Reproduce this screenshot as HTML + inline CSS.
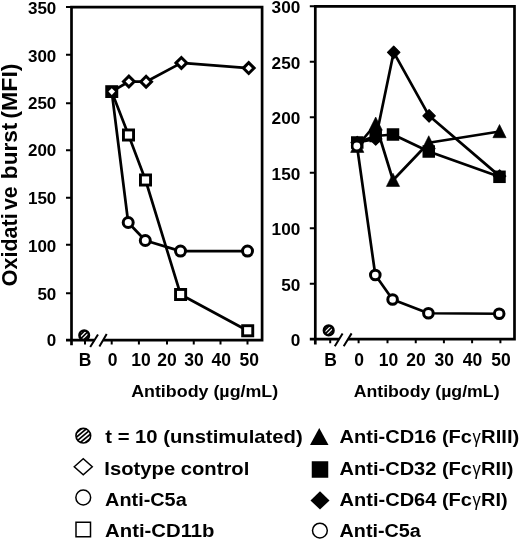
<!DOCTYPE html>
<html><head><meta charset="utf-8"><title>Chart</title>
<style>
html,body{margin:0;padding:0;background:#fff;}
body{width:520px;height:540px;overflow:hidden;}
svg{display:block;filter:grayscale(1) blur(0.3px);}
text{font-family:"Liberation Sans",sans-serif;font-weight:bold;fill:#000;}
</style></head><body>
<svg width="520" height="540" viewBox="0 0 520 540">
<rect width="520" height="540" fill="#fff"/>
<g stroke="#000" fill="none">
<path stroke-width="2.7" d="M71.5,345.3 V7.1 H262.1 V340.2 H103.2 M94.2,340.2 H66.0"/>
<path stroke-width="2.0" d="M66.0,293.30 H71.5M66.0,244.70 H71.5M66.0,197.80 H71.5M66.0,150.20 H71.5M66.0,103.30 H71.5M66.0,54.70 H71.5M66.0,7.10 H71.5M85,340.2 V344.4M111.7,340.2 V344.4M138.9,340.2 V344.4M167,340.2 V344.4M193.75,340.2 V344.4M220.5,340.2 V344.4M247.5,340.2 V344.4M90.2,347.1 L98,334.4 M99.4,346.6 L106.7,334"/>
</g>
<text x="56.3" y="346.10" font-size="17" text-anchor="end">0</text>
<text x="56.3" y="299.60" font-size="17" text-anchor="end">50</text>
<text x="56.3" y="251.50" font-size="17" text-anchor="end">100</text>
<text x="56.3" y="203.90" font-size="17" text-anchor="end">150</text>
<text x="56.3" y="156.30" font-size="17" text-anchor="end">200</text>
<text x="56.3" y="108.80" font-size="17" text-anchor="end">250</text>
<text x="56.3" y="61.50" font-size="17" text-anchor="end">300</text>
<text x="56.3" y="13.80" font-size="17" text-anchor="end">350</text>
<text x="85" y="366.3" font-size="17.5" text-anchor="middle">B</text>
<text x="112.5" y="366.3" font-size="17.5" text-anchor="middle">0</text>
<text x="141" y="366.3" font-size="17.5" text-anchor="middle">10</text>
<text x="167" y="366.3" font-size="17.5" text-anchor="middle">20</text>
<text x="194" y="366.3" font-size="17.5" text-anchor="middle">30</text>
<text x="221.2" y="366.3" font-size="17.5" text-anchor="middle">40</text>
<text x="249.2" y="366.3" font-size="17.5" text-anchor="middle">50</text>
<polyline fill="none" stroke="#000" stroke-width="2.7" stroke-linejoin="round" points="111.75,91.75 128.5,135 145.5,180 180.6,294.5 247.7,330.75"/>
<polyline fill="none" stroke="#000" stroke-width="2.7" stroke-linejoin="round" points="111.75,91.75 128.2,222.5 145.3,240.5 180.5,251.1 247.5,251.1"/>
<polyline fill="none" stroke="#000" stroke-width="2.7" stroke-linejoin="round" points="111.75,91.6 128.9,81.5 146.1,81.7 181.4,62.9 248.7,68.1"/>
<rect x="123.45" y="129.95" width="10.1" height="10.1" fill="#fff" stroke="#000" stroke-width="2.9"/>
<rect x="140.45" y="174.95" width="10.1" height="10.1" fill="#fff" stroke="#000" stroke-width="2.9"/>
<rect x="175.55" y="289.45" width="10.1" height="10.1" fill="#fff" stroke="#000" stroke-width="2.9"/>
<rect x="242.65" y="325.70" width="10.1" height="10.1" fill="#fff" stroke="#000" stroke-width="2.9"/>
<circle cx="128.2" cy="222.5" r="5.0" fill="#fff" stroke="#000" stroke-width="3.0"/>
<circle cx="145.3" cy="240.5" r="5.0" fill="#fff" stroke="#000" stroke-width="3.0"/>
<circle cx="180.5" cy="251.1" r="5.0" fill="#fff" stroke="#000" stroke-width="3.0"/>
<circle cx="247.5" cy="251.1" r="5.0" fill="#fff" stroke="#000" stroke-width="3.0"/>
<path d="M123.50,81.5 L128.9,76.10 L134.30,81.5 L128.9,86.90 Z" fill="#fff" stroke="#000" stroke-width="3.0"/>
<path d="M140.70,81.7 L146.1,76.30 L151.50,81.7 L146.1,87.10 Z" fill="#fff" stroke="#000" stroke-width="3.0"/>
<path d="M176.00,62.9 L181.4,57.50 L186.80,62.9 L181.4,68.30 Z" fill="#fff" stroke="#000" stroke-width="3.0"/>
<path d="M243.30,68.1 L248.7,62.70 L254.10,68.1 L248.7,73.50 Z" fill="#fff" stroke="#000" stroke-width="3.0"/>
<rect x="105.25" y="85.19999999999999" width="13" height="12.8" fill="#000"/>
<path d="M108.45,91.6 L111.75,88.3 L115.05,91.6 L111.75,94.89999999999999 Z" fill="#fff"/>
<clipPath id="c1"><circle cx="84.2" cy="335.3" r="4.75"/></clipPath><circle cx="84.2" cy="335.3" r="4.75" fill="#fff"/><g clip-path="url(#c1)" stroke="#000" stroke-width="1.6"><path d="M73.28,333.92 L82.82,324.38"/><path d="M75.33,335.97 L84.87,326.43"/><path d="M77.38,338.02 L86.92,328.48"/><path d="M79.43,340.07 L88.97,330.53"/><path d="M81.48,342.12 L91.02,332.58"/><path d="M83.53,344.17 L93.07,334.63"/><path d="M85.58,346.22 L95.12,336.68"/></g><circle cx="84.2" cy="335.3" r="4.75" fill="none" stroke="#000" stroke-width="2.6"/>
<g stroke="#000" fill="none">
<path stroke-width="2.7" d="M315.3,344.4 V6.3 H514.5 V339.2 H348 M339,339.2 H309.8"/>
<path stroke-width="2.0" d="M309.8,283.72 H315.3M309.8,228.23 H315.3M309.8,172.75 H315.3M309.8,117.27 H315.3M309.8,61.78 H315.3M309.8,6.30 H315.3M330.2,339.2 V343.2M358.6,339.2 V343.2M387.5,339.2 V343.2M415.75,339.2 V343.2M443.9,339.2 V343.2M472.1,339.2 V343.2M500.4,339.2 V343.2M334.8,346.2 L342.6,333.4 M343.7,346.2 L351.6,333.4"/>
</g>
<text x="300.3" y="346.10" font-size="17.2" text-anchor="end">0</text>
<text x="300.3" y="290.62" font-size="17.2" text-anchor="end">50</text>
<text x="300.3" y="235.13" font-size="17.2" text-anchor="end">100</text>
<text x="300.3" y="179.65" font-size="17.2" text-anchor="end">150</text>
<text x="300.3" y="124.17" font-size="17.2" text-anchor="end">200</text>
<text x="300.3" y="68.68" font-size="17.2" text-anchor="end">250</text>
<text x="300.3" y="13.20" font-size="17.2" text-anchor="end">300</text>
<text x="330.5" y="365.6" font-size="17.5" text-anchor="middle">B</text>
<text x="359" y="365.6" font-size="17.5" text-anchor="middle">0</text>
<text x="388.5" y="365.6" font-size="17.5" text-anchor="middle">10</text>
<text x="416" y="365.6" font-size="17.5" text-anchor="middle">20</text>
<text x="444.3" y="365.6" font-size="17.5" text-anchor="middle">30</text>
<text x="472.4" y="365.6" font-size="17.5" text-anchor="middle">40</text>
<text x="501" y="365.6" font-size="17.5" text-anchor="middle">50</text>
<polyline fill="none" stroke="#000" stroke-width="2.7" stroke-linejoin="round" points="357.25,146.25 375.7,124 393,180.25 428.75,142.75 499.5,131.5"/>
<polyline fill="none" stroke="#000" stroke-width="2.7" stroke-linejoin="round" points="357.25,142.5 375.7,136 393,134.5 428.75,151.5 499.5,176.8"/>
<polyline fill="none" stroke="#000" stroke-width="2.7" stroke-linejoin="round" points="357.25,142.5 375.7,139 393.7,52.3 429.1,115.8 499.6,176.1"/>
<polyline fill="none" stroke="#000" stroke-width="2.7" stroke-linejoin="round" points="357.0,146 375.3,275 392.6,299.5 428.4,313.25 499.2,313.75"/>
<path d="M350.65,152.45 L357.25,139.25 L363.85,152.45 Z" fill="#000" stroke="#000" stroke-width="0.6" stroke-linejoin="round"/>
<path d="M369.10,130.20 L375.7,117.00 L382.30,130.20 Z" fill="#000" stroke="#000" stroke-width="0.6" stroke-linejoin="round"/>
<path d="M386.40,186.45 L393,173.25 L399.60,186.45 Z" fill="#000" stroke="#000" stroke-width="0.6" stroke-linejoin="round"/>
<path d="M422.15,148.95 L428.75,135.75 L435.35,148.95 Z" fill="#000" stroke="#000" stroke-width="0.6" stroke-linejoin="round"/>
<path d="M492.90,137.70 L499.5,124.50 L506.10,137.70 Z" fill="#000" stroke="#000" stroke-width="0.6" stroke-linejoin="round"/>
<rect x="351.0" y="136.25" width="12.5" height="12.5" fill="#000"/>
<rect x="369.45" y="129.75" width="12.5" height="12.5" fill="#000"/>
<rect x="386.75" y="128.25" width="12.5" height="12.5" fill="#000"/>
<rect x="422.5" y="145.25" width="12.5" height="12.5" fill="#000"/>
<rect x="493.25" y="170.55" width="12.5" height="12.5" fill="#000"/>
<path d="M351.05,142.5 L357.25,136.30 L363.45,142.5 L357.25,148.70 Z" fill="#000" stroke="#000" stroke-width="1.2" stroke-linejoin="round"/>
<path d="M369.50,139 L375.7,132.80 L381.90,139 L375.7,145.20 Z" fill="#000" stroke="#000" stroke-width="1.2" stroke-linejoin="round"/>
<path d="M387.50,52.3 L393.7,46.10 L399.90,52.3 L393.7,58.50 Z" fill="#000" stroke="#000" stroke-width="1.2" stroke-linejoin="round"/>
<path d="M422.90,115.8 L429.1,109.60 L435.30,115.8 L429.1,122.00 Z" fill="#000" stroke="#000" stroke-width="1.2" stroke-linejoin="round"/>
<path d="M493.40,176.1 L499.6,169.90 L505.80,176.1 L499.6,182.30 Z" fill="#000" stroke="#000" stroke-width="1.2" stroke-linejoin="round"/>
<circle cx="356.85" cy="146" r="4.7" fill="#fff" stroke="#000" stroke-width="2.6"/>
<circle cx="375.3" cy="275" r="4.8" fill="#fff" stroke="#000" stroke-width="3.0"/>
<circle cx="392.6" cy="299.5" r="4.8" fill="#fff" stroke="#000" stroke-width="3.0"/>
<circle cx="428.4" cy="313.25" r="4.8" fill="#fff" stroke="#000" stroke-width="3.0"/>
<circle cx="499.2" cy="313.75" r="4.8" fill="#fff" stroke="#000" stroke-width="3.0"/>
<clipPath id="c2"><circle cx="328.7" cy="330.4" r="4.75"/></clipPath><circle cx="328.7" cy="330.4" r="4.75" fill="#fff"/><g clip-path="url(#c2)" stroke="#000" stroke-width="1.6"><path d="M317.78,329.02 L327.32,319.48"/><path d="M319.83,331.07 L329.37,321.53"/><path d="M321.88,333.12 L331.42,323.58"/><path d="M323.93,335.17 L333.47,325.63"/><path d="M325.98,337.22 L335.52,327.68"/><path d="M328.03,339.27 L337.57,329.73"/><path d="M330.08,341.32 L339.62,331.78"/></g><circle cx="328.7" cy="330.4" r="4.75" fill="none" stroke="#000" stroke-width="2.7"/>
<clipPath id="c3"><circle cx="83.3" cy="435.7" r="7.35"/></clipPath><circle cx="83.3" cy="435.7" r="7.35" fill="#fff"/><g clip-path="url(#c3)" stroke="#000" stroke-width="1.7"><path d="M67.65,431.60 L81.98,419.58"/><path d="M69.77,434.13 L84.10,422.11"/><path d="M71.90,436.65 L86.22,424.63"/><path d="M74.02,439.18 L88.34,427.16"/><path d="M76.14,441.71 L90.46,429.69"/><path d="M78.26,444.24 L92.58,432.22"/><path d="M80.38,446.77 L94.70,434.75"/><path d="M82.50,449.29 L96.83,437.27"/><path d="M84.62,451.82 L98.95,439.80"/></g><circle cx="83.3" cy="435.7" r="7.35" fill="none" stroke="#000" stroke-width="1.6"/>
<path d="M74.25,466.75 L83.25,458.75 L92.25,466.75 L83.25,474.75 Z" fill="#fff" stroke="#000" stroke-width="1.5"/>
<circle cx="83.25" cy="497.5" r="7.4" fill="#fff" stroke="#000" stroke-width="1.5"/>
<rect x="76" y="522.25" width="14.5" height="14.5" fill="#fff" stroke="#000" stroke-width="1.5"/>
<path d="M310,445 L319.25,428 L328.5,445 Z" fill="#000"/>
<rect x="311.75" y="461.25" width="16.5" height="16.5" fill="#000"/>
<path d="M310.5,500.4 L320,491.25 L329.5,500.4 L320,509.5 Z" fill="#000"/>
<circle cx="319.9" cy="530.6" r="7.4" fill="#fff" stroke="#000" stroke-width="1.5"/>
<text transform="translate(131.14,396.5) scale(1.0626,1)" font-size="16.8">Antibody (µg/mL)</text>
<text transform="translate(17.2,286.16) rotate(-90) scale(0.9992,1)" font-size="21.5">Oxidati</text>
<text transform="translate(17.2,210.10) rotate(-90) scale(0.9892,1)" font-size="21.5">ve</text>
<text transform="translate(17.2,179.15) rotate(-90) scale(1.0497,1)" font-size="21.5">burst</text>
<text transform="translate(17.2,118.83) rotate(-90) scale(1.0797,1)" font-size="21.5">(MFI)</text>
<text transform="translate(353.65,397) scale(1.0546,1)" font-size="16.8">Antibody (µg/mL)</text>
<text transform="translate(105.30,443) scale(1.0664,1)" font-size="19">t = 10 (unstimulated)</text>
<text transform="translate(104.29,474.5) scale(1.0654,1)" font-size="19">Isotype control</text>
<text transform="translate(105.10,506.1) scale(1.0449,1)" font-size="19">Anti-C5a</text>
<text transform="translate(105.09,537) scale(1.0693,1)" font-size="19">Anti-CD11b</text>
<text transform="translate(339.60,443) scale(1.0542,1)" font-size="19">Anti-CD16 (Fc</text>
<text transform="translate(339.60,474.5) scale(1.0542,1)" font-size="19">Anti-CD32 (Fc</text>
<text transform="translate(339.60,505.75) scale(1.0542,1)" font-size="19">Anti-CD64 (Fc</text>
<text transform="translate(481.08,443) scale(1.0670,1)" font-size="19">RIII)</text>
<text transform="translate(481.09,474.5) scale(1.0576,1)" font-size="19">RII)</text>
<text transform="translate(481.10,505.75) scale(1.0526,1)" font-size="19">RI)</text>
<text transform="translate(472.40,443) scale(0.8737,1)" font-size="19" style="font-weight:normal">γ</text>
<text transform="translate(472.40,474.5) scale(0.8737,1)" font-size="19" style="font-weight:normal">γ</text>
<text transform="translate(472.40,505.75) scale(0.8737,1)" font-size="19" style="font-weight:normal">γ</text>
<text transform="translate(339.60,537) scale(1.0410,1)" font-size="19">Anti-C5a</text>
</svg>
</body></html>
